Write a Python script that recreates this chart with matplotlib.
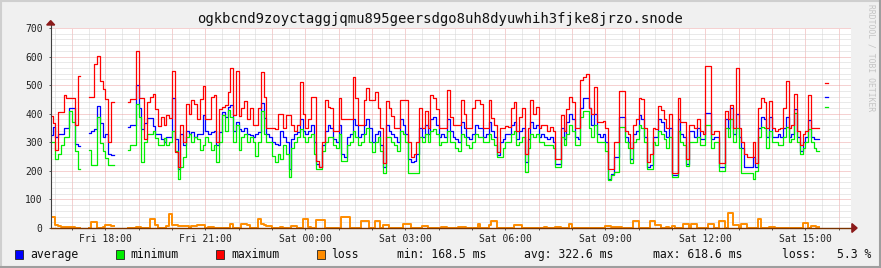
import numpy as np
import pandas as pd
import matplotlib
matplotlib.use('Agg')
import matplotlib.pyplot as plt
import matplotlib.dates as mdates
from matplotlib.patches import Rectangle, Polygon
from matplotlib.lines import Line2D

nan = np.nan

# chart text
TITLE = 'ogkbcnd9zoyctaggjqmu895geersdgo8uh8dyuwhih3fjke8jrzo.snode'
SERIES = ['average', 'minimum', 'maximum', 'loss']
STATS = ['min: 168.5 ms', 'avg: 322.6 ms', 'max: 618.6 ms', 'loss:   5.3 %']
WATERMARK = 'RRDTOOL / TOBI OETIKER'

# samples every 5 minutes from Fri 16:20, one row per hour
START = '2024-01-05 16:20'
STEP = '5min'

max_ms = [
    392, 369, 273, 407, 407, 465, 454, 454, 454, 360, 532, nan,
    nan, nan, 460, 460, 574, 602, 513, 488, 451, 302, 441, nan,
    nan, nan, nan, nan, 441, 452, 452, 618.6, 455, 455, 310, 440,
    460, 470, 415, 357, 390, 360, 395, 385, 550, 265, 213, 360,
    300, 435, 400, 448, 435, 383, 450, 498, 380, 380, 460, 465,
    300, 418, 425, 430, 475, 560, 395, 548, 393, 420, 443, 380,
    420, 360, 360, 420, 545, 457, 350, 350, 350, 345, 400, 400,
    350, 396, 396, 360, 340, 360, 510, 400, 350, 380, 457, 457,
    236, 215, 300, 448, 425, 420, 340, 340, 455, 380, 380, 380,
    380, 527, 455, 360, 360, 448, 490, 448, 448, 477, 420, 350,
    227, 443, 420, 392, 350, 350, 448, 448, 448, 300, 250, 260,
    300, 420, 350, 408, 350, 465, 455, 415, 350, 350, 350, 483,
    390, 360, 360, 360, 448, 400, 350, 350, 420, 448, 448, 435,
    350, 350, 448, 385, 360, 267, 350, 350, 357, 355, 420, 440,
    340, 388, 420, 260, 350, 448, 400, 425, 350, 362, 362, 340,
    355, 340, 240, 240, 395, 340, 415, 460, 440, 350, 350, 518,
    527, 539, 419, 400, 493, 370, 372, 375, 350, 205, 205, 300,
    300, 481, 481, 340, 330, 280, 360, 380, 455, 450, 350, 230,
    260, 350, 345, 427, 412, 380, 350, 400, 193, 193, 455, 370,
    370, 240, 362, 362, 350, 380, 340, 330, 567, 567, 330, 340,
    340, 226, 226, 410, 380, 431, 350, 559, 350, 300, 260, 250,
    250, 300, 226, 420, 455, 440, 350, 445, 350, 340, 345, 350,
    420, 516, 350, 360, 469, 340, 290, 330, 340, 466, 350, 350,
    350, nan, nan, 507, nan,
]

avg_ms = [
    325, 355, 318, 330, 330, 350, 350, 420, 420, 295, 288, nan,
    nan, nan, 332, 340, 345, 427, 367, 320, 330, 259, 255, nan,
    nan, nan, nan, nan, 355, 360, 360, 500, 420, 345, 367, 385,
    385, 357, 330, 330, 310, 300, 320, 320, 455, 310, 205, 330,
    290, 340, 330, 335, 320, 330, 330, 395, 340, 330, 335, 340,
    290, 335, 405, 390, 425, 430, 340, 370, 345, 340, 350, 330,
    325, 320, 330, 335, 437, 385, 330, 320, 300, 295, 290, 340,
    320, 300, 205, 310, 330, 335, 380, 340, 330, 340, 360, 300,
    225, 212, 290, 340, 360, 350, 310, 300, 360, 260, 250, 320,
    330, 380, 360, 320, 330, 360, 380, 350, 300, 330, 340, 290,
    215, 360, 340, 330, 320, 300, 380, 360, 330, 240, 230, 235,
    260, 350, 320, 360, 330, 380, 390, 360, 320, 330, 320, 380,
    340, 320, 310, 300, 370, 350, 320, 310, 330, 360, 350, 350,
    320, 330, 370, 340, 320, 255, 300, 310, 330, 330, 360, 370,
    310, 340, 350, 230, 310, 370, 350, 360, 320, 330, 320, 310,
    320, 300, 225, 225, 350, 310, 370, 400, 380, 320, 310, 420,
    455, 455, 419, 360, 400, 330, 320, 330, 300, 170, 190, 250,
    250, 390, 390, 320, 300, 240, 330, 340, 395, 380, 320, 215,
    220, 320, 320, 380, 370, 340, 320, 350, 185, 185, 380, 330,
    320, 225, 340, 340, 320, 350, 310, 310, 401, 401, 310, 320,
    320, 215, 215, 380, 350, 419, 330, 400, 320, 280, 215, 215,
    215, 250, 215, 350, 390, 380, 320, 390, 320, 320, 330, 320,
    350, 390, 320, 330, 418, 320, 270, 300, 320, 378, 320, 310,
    310, nan, nan, 458, nan,
]

min_ms = [
    300, 300, 240, 259, 290, 318, 318, 410, 370, 268, 205, nan,
    nan, nan, 273, 220, 220, 390, 297, 268, 245, 220, 220, nan,
    nan, nan, nan, nan, 273, 290, 290, 434, 390, 231, 300, 330,
    330, 340, 315, 290, 290, 315, 290, 300, 340, 270, 171, 213,
    250, 320, 330, 300, 320, 310, 273, 290, 320, 300, 273, 290,
    231, 300, 395, 340, 413, 390, 300, 360, 273, 320, 330, 300,
    320, 300, 252, 300, 408, 330, 300, 300, 252, 232, 260, 240,
    290, 260, 180, 280, 300, 320, 345, 320, 300, 320, 330, 260,
    206, 206, 270, 300, 320, 320, 290, 280, 330, 236, 236, 290,
    300, 340, 320, 290, 300, 330, 350, 300, 267, 300, 320, 270,
    191, 320, 320, 300, 290, 270, 340, 330, 300, 191, 191, 191,
    191, 320, 300, 330, 300, 340, 345, 330, 290, 300, 300, 340,
    300, 300, 280, 270, 330, 320, 290, 280, 300, 330, 320, 320,
    300, 300, 330, 310, 290, 250, 250, 280, 300, 300, 330, 340,
    290, 300, 320, 197, 280, 330, 320, 330, 300, 300, 290, 290,
    290, 280, 212, 212, 320, 290, 330, 360, 340, 290, 290, 390,
    408, 408, 350, 320, 360, 300, 300, 300, 270, 168.5, 185, 197,
    197, 355, 355, 300, 280, 226, 300, 310, 360, 350, 300, 206,
    206, 300, 290, 340, 330, 310, 280, 320, 180, 180, 340, 300,
    290, 217, 300, 300, 300, 320, 290, 290, 360, 360, 280, 300,
    300, 200, 200, 350, 320, 380, 300, 350, 280, 193, 193, 193,
    193, 170, 200, 320, 355, 350, 280, 340, 300, 300, 290, 290,
    320, 355, 300, 310, 401, 300, 259, 280, 300, 345, 300, 280,
    270, nan, nan, 423, nan,
]

loss_pct = [
    37, 37, 10, 7, 4, 4, 4, 4, 3, 0, 0, nan,
    nan, nan, 0, 22, 22, 0, 0, 3, 12, 10, 6, nan,
    nan, nan, nan, nan, 0, 0, 0, 2, 2, 0, 0, 0,
    30, 30, 10, 0, 0, 0, 7, 48, 10, 10, 8, 8,
    7, 7, 0, 7, 7, 9, 9, 9, 0, 5, 5, 0,
    0, 0, 0, 0, 0, 13, 0, 0, 0, 13, 13, 10,
    0, 0, 0, 30, 15, 10, 6, 6, 0, 0, 0, 5,
    0, 0, 0, 8, 8, 0, 0, 30, 30, 5, 0, 0,
    28, 28, 28, 0, 0, 0, 0, 0, 0, 37, 37, 37,
    0, 0, 0, 0, 24, 24, 24, 0, 0, 24, 24, 0,
    10, 10, 0, 0, 0, 0, 0, 13, 13, 13, 0, 0,
    0, 0, 8, 8, 0, 0, 0, 0, 0, 5, 5, 0,
    0, 0, 0, 5, 5, 5, 0, 0, 0, 0, 13, 0,
    0, 0, 10, 24, 24, 0, 0, 0, 0, 0, 0, 10,
    10, 10, 0, 0, 0, 0, 0, 0, 0, 0, 5, 0,
    0, 0, 5, 5, 0, 0, 0, 13, 0, 0, 0, 0,
    0, 0, 0, 0, 0, 0, 0, 0, 7, 7, 5, 5,
    5, 5, 0, 0, 0, 0, 26, 26, 0, 0, 0, 0,
    26, 26, 10, 10, 0, 0, 5, 0, 8, 0, 0, 0,
    13, 13, 0, 13, 13, 0, 0, 0, 0, 13, 13, 0,
    0, 24, 24, 0, 54, 54, 10, 10, 0, 13, 13, 0,
    0, 0, 0, 33, 0, 0, 0, 3, 3, 0, 0, 0,
    0, 0, 0, 0, 0, 0, 0, 16, 16, 0, 8, 8,
    5, nan, nan, nan, nan,
]

# colours (rrdtool look)
C_AVG = '#0000FF'
C_MIN = '#00EE00'
C_MAX = '#FF0000'
C_LOSS = '#FF8C00'
BACK = '#F0F0F0'
MONO = 'DejaVu Sans Mono'

W, H = 881, 268


def px(x, y):
    # pixel position (from top left) -> figure fraction
    return x / W, 1 - y / H


def main():
    fig = plt.figure(figsize=(W / 100, H / 100), dpi=100, facecolor=BACK)
    ax = fig.add_axes([50.7 / W, 40 / H, 800 / W, 200 / H])
    ax.set_facecolor('white')

    n = len(max_ms)
    times = pd.date_range(START, periods=n + 1, freq=STEP)

    def ext(v):
        return np.append(np.array(v, dtype=float), nan)

    ax.plot(times, ext(avg_ms), drawstyle='steps-post', color=C_AVG, lw=0.9, zorder=3)
    ax.plot(times, ext(min_ms), drawstyle='steps-post', color=C_MIN, lw=0.9, zorder=3)
    ax.plot(times, ext(max_ms), drawstyle='steps-post', color=C_MAX, lw=0.9, zorder=3)
    ax.plot(times, ext(loss_pct), drawstyle='steps-post', color=C_LOSS, lw=1.4, zorder=4)

    t0 = pd.Timestamp('2024-01-05 16:21:43')
    ax.set_xlim(t0, t0 + pd.Timedelta(hours=24))
    ax.set_ylim(0, 700)

    # grid
    ax.xaxis.set_major_locator(mdates.HourLocator())
    ax.xaxis.set_minor_locator(mdates.MinuteLocator(byminute=[30]))

    def xfmt(x, pos):
        d = mdates.num2date(x)
        if d.hour % 3 == 0 and d.minute == 0:
            return d.strftime('%a %H:%M')
        return ''
    ax.xaxis.set_major_formatter(plt.FuncFormatter(xfmt))
    ax.set_yticks(range(0, 701, 100))
    ax.set_yticks([v for v in range(0, 701, 20) if v % 100], minor=True)

    ax.grid(which='major', color='#EDA5A5', lw=0.72, ls=(0, (1, 1)))
    ax.grid(which='minor', color='#D4D4D4', lw=0.72, ls=(0, (1, 1)))
    ax.set_axisbelow(True)

    for s in ax.spines.values():
        s.set_visible(False)
    ax.tick_params(which='major', length=1.5, width=0.7, color='#555555',
                   labelsize=7, labelcolor='#222222')
    ax.tick_params(axis='x', which='major', pad=2.5)
    ax.tick_params(axis='y', which='major', pad=4.3)
    ax.tick_params(which='minor', length=0)
    for lab in ax.get_xticklabels() + ax.get_yticklabels():
        lab.set_family(MONO)

    # axes with arrows
    ax.plot([0, 0], [0, 1.02], transform=ax.transAxes, color='#404040',
            lw=0.8, clip_on=False, zorder=5)
    ax.plot([0, 1.003], [0, 0], transform=ax.transAxes, color='#7A3300',
            lw=1.0, clip_on=False, zorder=5)
    ax.add_patch(Polygon([(-0.005, 1.015), (0.005, 1.015), (0, 1.037)],
                         closed=True, transform=ax.transAxes, color='#8B1A1A',
                         clip_on=False, zorder=6))
    ax.add_patch(Polygon([(1.0015, 0.022), (1.0015, -0.022), (1.008, 0)],
                         closed=True, transform=ax.transAxes, color='#8B1A1A',
                         clip_on=False, zorder=6))

    # title and watermark
    fig.text(*px(439.5, 18.5), TITLE, family=MONO, fontsize=10,
             ha='center', va='center', color='#111111')
    fig.text(*px(871.5, 4), WATERMARK, family=MONO, fontsize=5.8,
             rotation=270, ha='center', va='top', color='#C4C4C4')

    # legend row
    colors = [C_AVG, C_MIN, C_MAX, C_LOSS]
    for k, (name, c) in enumerate(zip(SERIES, colors)):
        bx = 15 + 100.5 * k
        x0, y0 = px(bx, 259)
        fig.add_artist(Rectangle((x0, y0), 8 / W, 9 / H, transform=fig.transFigure,
                                 facecolor=c, edgecolor='#222222', lw=0.6))
        fig.text(*px(bx + 15, 254.5), name, family=MONO, fontsize=8.3,
                 ha='left', va='center', color='#111111')
    for x, s in zip([397, 524.5, 653, 782], STATS):
        fig.text(*px(x, 254.5), s, family=MONO, fontsize=8.3,
                 ha='left', va='center', color='#111111')

    # 3d-ish frame
    fig.add_artist(Line2D([0, 1], [1 - 1 / H, 1 - 1 / H], transform=fig.transFigure,
                          color='#CFCFCF', lw=1.5))
    fig.add_artist(Line2D([1 / W, 1 / W], [0, 1], transform=fig.transFigure,
                          color='#CFCFCF', lw=1.5))
    fig.add_artist(Line2D([0, 1], [1 / H, 1 / H], transform=fig.transFigure,
                          color='#9E9E9E', lw=1.5))
    fig.add_artist(Line2D([1 - 1 / W, 1 - 1 / W], [0, 1], transform=fig.transFigure,
                          color='#9E9E9E', lw=1.5))

    fig.savefig('out.png', dpi=100, facecolor=BACK)


if __name__ == "__main__":
    main()
